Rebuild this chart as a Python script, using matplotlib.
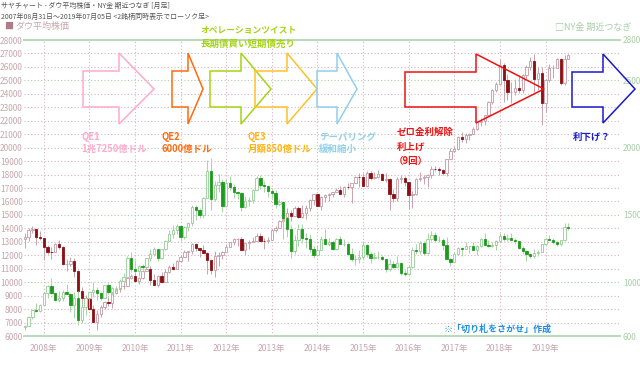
import matplotlib
matplotlib.use('Agg')
import matplotlib.pyplot as plt
from matplotlib.patches import Polygon
import numpy as np

plt.rcParams['font.family'] = ['Noto Sans CJK JP', 'DejaVu Sans']

# 月足 2007/08 ～ 2019/07
years = ['2008年', '2009年', '2010年', '2011年', '2012年', '2013年',
         '2014年', '2015年', '2016年', '2017年', '2018年', '2019年']
year_start_idx = [5, 17, 29, 41, 53, 65, 77, 89, 101, 113, 125, 137]

left_ticks = list(range(6000, 28001, 1000))
right_ticks = [600, 1000, 1500, 2000, 2500, 2800]

# ダウ平均株価
dow_open0 = 13212
dow_close = [
    13358, 13896, 13930, 13372, 13265,
    12650, 12266, 12263, 12820, 12638, 11350, 11378, 11544, 10851, 9325, 8829, 8776,
    8001, 7063, 7609, 8168, 8500, 8447, 9172, 9496, 9712, 9713, 10345, 10428,
    10067, 10325, 10857, 11009, 10137, 9774, 10466, 10015, 10788, 11118, 11006, 11578,
    11892, 12226, 12320, 12811, 12570, 12414, 12143, 11614, 10913, 11955, 12046, 12218,
    12633, 12952, 13212, 13214, 12393, 12880, 13009, 13091, 13437, 13096, 13026, 13104,
    13861, 14054, 14579, 14840, 15116, 14910, 15500, 14810, 15130, 15546, 16086, 16577,
    15699, 16322, 16458, 16581, 16717, 16827, 16563, 17098, 17043, 17391, 17828, 17823,
    17165, 18133, 17776, 17841, 18011, 17620, 17690, 16528, 16285, 17664, 17720, 17425,
    16466, 16517, 17685, 17774, 17787, 17930, 18432, 18401, 18308, 18142, 19124, 19763,
    19864, 20812, 20663, 20941, 21009, 21350, 21891, 21948, 22405, 23377, 24272, 24719,
    26149, 25029, 24103, 24163, 24416, 24271, 25415, 25965, 26458, 25116, 25538, 23327,
    24999, 25916, 25929, 26593, 24815, 26600, 26922]
dow_high = [
    13657, 14000, 14198, 13943, 13779,
    13279, 12768, 12622, 12891, 13136, 12657, 11698, 11867, 11790, 10882, 9653, 9026,
    9088, 8315, 7924, 8338, 8588, 8877, 9200, 9631, 9917, 10119, 10450, 10580,
    10730, 10410, 10930, 11258, 11205, 10595, 10555, 10720, 10948, 11247, 11451, 11625,
    12020, 12391, 12283, 12876, 12929, 12569, 12753, 12240, 11716, 12284, 12244, 12294,
    12842, 13005, 13289, 13297, 13338, 12898, 13134, 13330, 13653, 13661, 13290, 13365,
    13969, 14149, 14585, 14888, 15542, 15340, 15658, 15658, 15709, 15722, 16174, 16588,
    16588, 16398, 16563, 16631, 16735, 16978, 17151, 17153, 17350, 17395, 17895, 18103,
    18121, 18244, 18289, 18175, 18351, 18141, 18138, 17716, 16933, 17799, 17978, 17926,
    17426, 16752, 17716, 18167, 17934, 18016, 18623, 18668, 18529, 18399, 19152, 19987,
    20125, 20851, 21169, 21071, 21113, 21535, 21929, 22179, 22420, 23485, 24328, 24876,
    26617, 26307, 25449, 24858, 25087, 25403, 25468, 26168, 26770, 26951, 25990, 25980,
    25100, 26242, 26155, 26696, 26696, 26907, 26966]
dow_low = [
    12517, 13029, 13657, 12743, 13167,
    11635, 12071, 11732, 12266, 12442, 11288, 10827, 11210, 10365, 7882, 7449, 8118,
    7909, 7063, 6470, 7413, 8013, 8200, 8087, 9100, 9252, 9487, 9680, 10235,
    10026, 9835, 10268, 10838, 9774, 9757, 9614, 9936, 9999, 10711, 10929, 11005,
    11578, 11892, 11555, 12093, 12319, 11862, 12143, 10604, 10597, 10362, 11231, 11735,
    12218, 12633, 12742, 12710, 12392, 12035, 12492, 12977, 13035, 13041, 12471, 12884,
    13104, 13737, 14054, 14434, 14700, 14551, 14910, 14760, 14777, 14719, 15283, 15703,
    15699, 15340, 15937, 16015, 16334, 16675, 16563, 16333, 16945, 15855, 17336, 17068,
    17136, 17038, 17579, 17664, 17736, 17595, 17465, 15370, 15942, 16014, 17400, 17128,
    15451, 15503, 16511, 17484, 17331, 17063, 17713, 18288, 17992, 17959, 17884, 19150,
    19678, 19831, 20412, 20379, 20554, 20994, 21279, 21600, 21709, 22416, 23242, 24117,
    24741, 23360, 23509, 23344, 23938, 24077, 24085, 25124, 25792, 24122, 24268, 21713,
    22639, 24883, 25208, 25887, 24680, 24680, 26570]

# NY金 期近つなぎ
gold_open0 = 665
gold_close = [
    673, 743, 795, 783, 834,
    923, 972, 916, 865, 886, 928, 913, 833, 880, 718, 816, 884,
    928, 942, 916, 883, 979, 927, 955, 955, 1008, 1040, 1182, 1097,
    1083, 1118, 1113, 1180, 1213, 1244, 1181, 1248, 1308, 1357, 1386, 1421,
    1333, 1411, 1439, 1556, 1536, 1500, 1628, 1829, 1620, 1725, 1746, 1566,
    1740, 1711, 1669, 1664, 1561, 1604, 1614, 1687, 1776, 1719, 1714, 1676,
    1664, 1578, 1597, 1476, 1393, 1234, 1313, 1396, 1327, 1323, 1250, 1202,
    1240, 1322, 1284, 1296, 1246, 1322, 1282, 1287, 1210, 1171, 1175, 1184,
    1279, 1212, 1183, 1184, 1190, 1172, 1095, 1135, 1115, 1142, 1065, 1060,
    1116, 1238, 1234, 1290, 1215, 1322, 1349, 1311, 1316, 1273, 1173, 1152,
    1211, 1251, 1249, 1268, 1268, 1242, 1270, 1322, 1280, 1270, 1277, 1309,
    1345, 1318, 1327, 1316, 1304, 1254, 1233, 1206, 1196, 1215, 1226, 1282,
    1322, 1316, 1298, 1286, 1311, 1413, 1400]
gold_high = [
    680, 745, 795, 848, 836,
    930, 977, 1033, 922, 935, 939, 990, 917, 925, 932, 835, 885,
    936, 1005, 963, 930, 982, 991, 962, 975, 1025, 1070, 1195, 1227,
    1162, 1126, 1138, 1180, 1249, 1265, 1244, 1250, 1310, 1388, 1424, 1432,
    1424, 1414, 1447, 1575, 1577, 1555, 1632, 1911, 1923, 1755, 1804, 1764,
    1764, 1792, 1727, 1677, 1669, 1641, 1630, 1692, 1792, 1798, 1754, 1725,
    1698, 1683, 1616, 1605, 1488, 1424, 1348, 1434, 1434, 1362, 1361, 1267,
    1280, 1345, 1392, 1331, 1315, 1332, 1345, 1324, 1290, 1255, 1205, 1240,
    1307, 1285, 1222, 1224, 1232, 1205, 1175, 1170, 1157, 1192, 1145, 1088,
    1128, 1263, 1282, 1306, 1306, 1363, 1377, 1375, 1345, 1326, 1338, 1182,
    1221, 1264, 1262, 1296, 1271, 1298, 1273, 1330, 1362, 1310, 1300, 1310,
    1366, 1362, 1357, 1369, 1326, 1309, 1266, 1237, 1214, 1243, 1237, 1286,
    1326, 1349, 1326, 1307, 1305, 1442, 1443]
gold_low = [
    648, 671, 728, 776, 780,
    846, 883, 913, 860, 850, 857, 910, 776, 736, 681, 700, 755,
    805, 890, 866, 865, 880, 915, 905, 932, 951, 990, 1032, 1075,
    1071, 1044, 1088, 1111, 1160, 1196, 1155, 1175, 1242, 1308, 1330, 1360,
    1309, 1323, 1382, 1418, 1462, 1478, 1478, 1623, 1535, 1604, 1667, 1523,
    1562, 1688, 1627, 1615, 1527, 1548, 1564, 1585, 1686, 1692, 1673, 1636,
    1626, 1554, 1565, 1321, 1338, 1180, 1207, 1271, 1291, 1251, 1227, 1181,
    1202, 1238, 1277, 1268, 1240, 1240, 1282, 1272, 1205, 1160, 1131, 1142,
    1168, 1190, 1142, 1175, 1170, 1162, 1077, 1085, 1098, 1112, 1052, 1046,
    1061, 1107, 1209, 1206, 1199, 1207, 1307, 1301, 1302, 1241, 1171, 1122,
    1147, 1207, 1194, 1243, 1214, 1237, 1205, 1263, 1277, 1260, 1264, 1237,
    1303, 1307, 1303, 1313, 1282, 1246, 1211, 1160, 1180, 1183, 1196, 1221,
    1277, 1311, 1281, 1266, 1267, 1307, 1385]

W, H = 640, 386
fig = plt.figure(figsize=(W / 100, H / 100), dpi=100)
ax = fig.add_axes([24 / W, 50 / H, 596 / W, 296 / H])
ax2 = ax.twinx()


def candles(a, open0, close, high, low, up_edge, down_fill, wick):
    close = np.array(close, dtype=float)
    opn = np.concatenate([[open0], close[:-1]])
    x = np.arange(len(close))
    up = close >= opn
    a.vlines(x, low, high, color=wick, linewidth=0.7, zorder=2)
    a.bar(x, close - opn, bottom=opn, width=0.62,
          color=np.where(up, 'white', down_fill),
          edgecolor=np.where(up, up_edge, down_fill),
          linewidth=0.6, zorder=3)


candles(ax, dow_open0, dow_close, dow_high, dow_low, '#c49aa4', '#8c0f14', '#c8a4ac')
candles(ax2, gold_open0, gold_close, gold_high, gold_low, '#94cc94', '#1c9c1c', '#a8d4a8')

ax.set_xlim(-0.2, 156.6)
ax.set_ylim(6000, 28000)
ax2.set_ylim(600, 2800)

pink_axis = '#c8a6ae'
green_axis = '#a8cea8'
ax.set_yticks(left_ticks)
ax.set_yticklabels([str(v) for v in left_ticks])
ax.tick_params(axis='y', length=0, pad=1, labelsize=6, labelcolor=pink_axis)
ax2.set_yticks(right_ticks)
ax2.set_yticklabels([str(v) for v in right_ticks])
ax2.tick_params(axis='y', length=0, pad=2, labelsize=6, labelcolor=green_axis)
ax.set_xticks(year_start_idx)
ax.set_xticklabels(years)
ax.tick_params(axis='x', length=0, pad=6, labelsize=6.2, labelcolor=pink_axis)

ax.grid(True, linestyle=(0, (1, 2)), linewidth=0.8, color='#d8b4c0')
for v, gl in zip(left_ticks, ax.get_ygridlines()):
    if v % 5000 == 0:
        gl.set_color('#a8d0a8')
ax.set_axisbelow(True)

for a in (ax, ax2):
    for side in ('left', 'right'):
        a.spines[side].set_visible(False)
    for side in ('top', 'bottom'):
        a.spines[side].set_color('#b8dcb8')
        a.spines[side].set_linewidth(1.3)


def px(x, y):
    return x / W, 1 - y / H


def ftext(x, y, s, **kw):
    fig.text(*px(x, y), s, va='center', ha='left', **kw)


def block_arrow(xl, xh, xt, color, bt=71, bb=107, ht=53, hb=124, ym=89):
    pts = [(xl, bt), (xh, bt), (xh, ht), (xt, ym), (xh, hb), (xh, bb), (xl, bb)]
    fig.add_artist(Polygon([px(*p) for p in pts], closed=True, fill=False,
                           edgecolor=color, linewidth=1.1,
                           transform=fig.transFigure))


# header
ftext(1, 6, 'サヤチャート - ダウ平均株価・NY金 期近つなぎ [月足]', fontsize=5.0, color='#555555')
ftext(1, 17, '2007年08月31日～2019年07月05日 <2銘柄同時表示でローソク足>', fontsize=5.0, color='#555555')
ftext(4, 26, '■', fontsize=6.5, color='#b07c88')
ftext(15, 26, 'ダウ平均株価', fontsize=6.5, color='#c8a6ae')
ftext(555, 27, '□NY金 期近つなぎ', fontsize=6.5, color='#a8cea8')

# arrows
block_arrow(83, 119, 154, '#ffaacc')
block_arrow(172, 188, 203, '#ff6a10')
block_arrow(210, 241, 271, '#a4d414')
block_arrow(255, 287, 317, '#ffc02a')
block_arrow(317, 337, 357, '#90d0ec')
block_arrow(405, 476, 544, '#ee1111', bt=72, bb=107, ht=54, hb=123)
block_arrow(572, 603, 635, '#1a1acc', bt=72, bb=107, ht=54, hb=123)

bold = dict(fontsize=6.8, fontweight='bold')
ftext(81, 137, 'QE1', color='#ffaacc', **bold)
ftext(81, 149, '1兆7250億ドル', color='#ffaacc', **bold)
ftext(162, 137, 'QE2', color='#ff6a10', **bold)
ftext(162, 149, '6000億ドル', color='#ff6a10', **bold)
ftext(248, 137, 'QE3', color='#ffb414', **bold)
ftext(248, 149, '月額850億ドル', color='#ffb414', **bold)
ftext(319, 137, 'テーパリング', color='#90d0ec', **bold)
ftext(319, 149, '緩和縮小', color='#90d0ec', **bold)
ftext(200, 31, 'オペレーションツイスト', color='#a4d414', fontsize=6.3, fontweight='bold')
ftext(201, 44, '長期債買い短期債売り', color='#a4d414', **bold)
ftext(397, 132, 'ゼロ金利解除', color='#ee1111', **bold)
ftext(397, 147, '利上げ', color='#ee1111', **bold)
ftext(394, 161, '（9回）', color='#ee1111', **bold)
ftext(573, 137, '利下げ？', color='#1a1acc', **bold)
ftext(444, 329, '※「切り札をさがせ」作成', color='#1a90e0', fontsize=6.5, fontweight='bold')

fig.savefig('out.png', dpi=100)
